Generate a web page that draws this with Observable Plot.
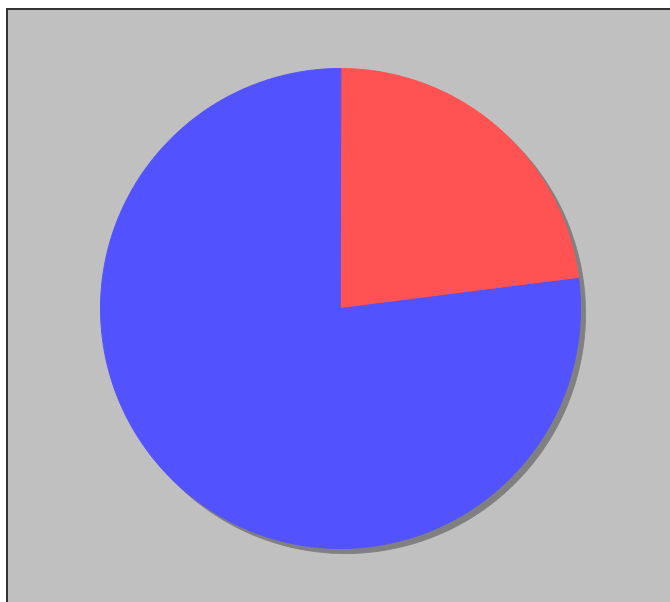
<!DOCTYPE html>
<html>
<head>
<meta charset="utf-8">
<script src="https://cdn.jsdelivr.net/npm/d3@7"></script>
<script src="https://cdn.jsdelivr.net/npm/@observablehq/plot@0.6"></script>
<style>
  html, body { margin: 0; padding: 0; background: #ffffff; overflow: hidden; }
  #frame { position: absolute; left: 6px; top: 8px; width: 720px; height: 660px;
           border: 2px solid #333333; background: #c0c0c0; }
  #chart { position: absolute; left: 0; top: 0; }
</style>
</head>
<body>
<div id="frame"></div>
<div id="chart"></div>
<script>
const labels = ["Slice A", "Slice B"];
const values = [23, 77];
const colors = ["#ff5252", "#5252ff"];

const arcs = d3.pie().sort(null)(values);
const rows = [];
arcs.forEach((a, i) => {
  rows.push({slice: labels[i], x: 0, y: 0});
  const n = Math.max(2, Math.ceil((a.endAngle - a.startAngle) / (Math.PI / 360)));
  for (let k = 0; k <= n; k++) {
    const t = a.startAngle + (a.endAngle - a.startAngle) * k / n;
    rows.push({slice: labels[i], x: Math.sin(t), y: Math.cos(t)});
  }
});

const chart = Plot.plot({
  width: 670,
  height: 602,
  style: {background: "transparent"},
  x: {domain: [-1, 1], range: [100, 580], axis: null},
  y: {domain: [-1, 1], range: [548, 68], axis: null},
  color: {type: "ordinal", domain: labels, range: colors},
  marks: [
    Plot.line(rows, {x: "x", y: "y", z: "slice", fill: "#808080", stroke: "#808080", strokeWidth: 1, curve: "linear-closed", dx: 5, dy: 5}),
    Plot.line(rows, {x: "x", y: "y", z: "slice", fill: "slice", stroke: "slice", strokeWidth: 1, curve: "linear-closed"})
  ]
});
document.getElementById("chart").appendChild(chart);
</script>
</body>
</html>
